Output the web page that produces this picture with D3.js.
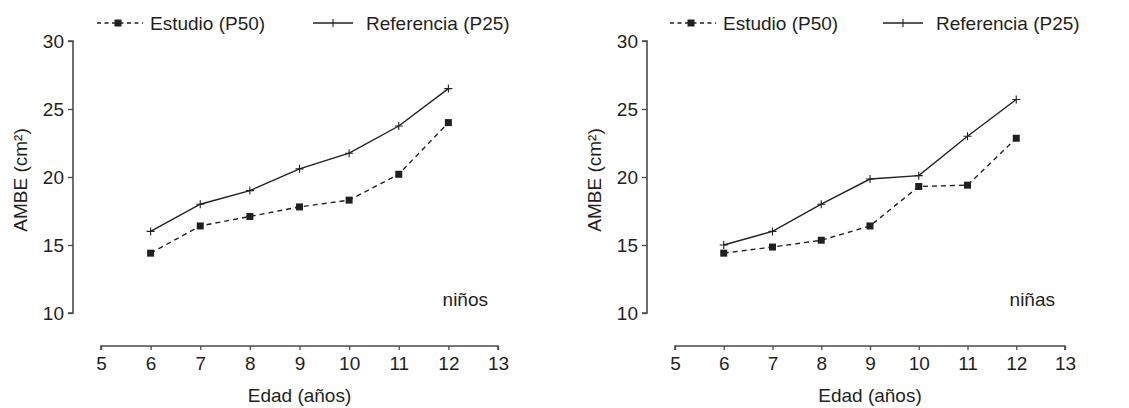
<!DOCTYPE html>
<html><head><meta charset="utf-8">
<script src="https://cdn.jsdelivr.net/npm/d3@7/dist/d3.min.js"></script>
<style>
body{margin:0;background:#fff;}
svg text{font-family:"Liberation Sans",Arial,Helvetica,sans-serif;fill:#231f20;}
</style></head>
<body><svg id="c" width="1129" height="408"></svg>
<script>
const ages = [6,7,8,9,10,11,12];
const xTicks = [5,6,7,8,9,10,11,12,13];
const yTicks = [10,15,20,25,30];
const ninosEstudio = [14.4,16.4,17.1,17.8,18.3,20.2,24.0];
const ninosReferencia = [16.0,18.0,19.0,20.6,21.75,23.75,26.5];
const ninasEstudio = [14.4,14.85,15.35,16.4,19.3,19.4,22.85];
const ninasReferencia = [15.0,16.0,18.0,19.85,20.1,23.0,25.7];
const seriesNames = ["Estudio (P50)","Referencia (P25)"];
const panelLabels = ["niños","niñas"];
const xTitle = "Edad (años)";
const yTitle = "AMBE (cm²)";

const svg = d3.select("#c");
const ink = "#231f20", axisCol = "#4a4a4a";
const FS = 19;

const panels = [
  {est: ninosEstudio, ref: ninosReferencia, label: panelLabels[0], yAxisX: 73, xr: [101,498], legX: [97,313]},
  {est: ninasEstudio, ref: ninasReferencia, label: panelLabels[1], yAxisX: 647, xr: [675,1065], legX: [670,883]}
];

panels.forEach(p => {
  const g = svg.append("g");
  const x = d3.scaleLinear().domain([5,13]).range(p.xr);
  const y = d3.scaleLinear().domain([10,30]).range([313,41]);

  const ya = g.append("g").attr("transform",`translate(${p.yAxisX},0)`)
    .call(d3.axisLeft(y).tickValues(yTicks).tickSize(5).tickPadding(4).tickFormat(d3.format("d")));
  const xa = g.append("g").attr("transform",`translate(0,346)`)
    .call(d3.axisBottom(x).tickValues(xTicks).tickSize(4).tickPadding(7).tickFormat(d3.format("d")));
  [ya,xa].forEach(a=>{
    a.select(".domain").attr("stroke",axisCol).attr("stroke-width",1.6);
    a.selectAll(".tick line").attr("stroke",axisCol).attr("stroke-width",1.3);
    a.selectAll(".tick text").attr("font-size",FS).attr("fill",ink);
  });
  ya.select(".domain").attr("d",`M-5,${y(30)}H0V${y(10)}H-5`);
  xa.select(".domain").attr("d",`M${x(5)},4V0H${x(13)}V4`);

  g.append("text").attr("x",(p.xr[0]+p.xr[1])/2).attr("y",402).attr("text-anchor","middle")
    .attr("font-size",FS).text(xTitle);
  g.append("text").attr("transform",`translate(${p.yAxisX-46},180) rotate(-90)`).attr("text-anchor","middle")
    .attr("font-size",FS).text(yTitle);
  g.append("text").attr("x",x(13)-10).attr("y",306).attr("text-anchor","end")
    .attr("font-size",FS).text(p.label);

  const line = d3.line().x((d,i)=>x(ages[i])).y(d=>y(d));
  g.append("path").datum(p.ref).attr("d",line).attr("fill","none").attr("stroke",ink).attr("stroke-width",1.4);
  g.selectAll(".cr").data(p.ref).enter().append("path")
    .attr("d",(d,i)=>`M${x(ages[i])-4},${y(d)}h8M${x(ages[i])},${y(d)-4}v8`)
    .attr("stroke",ink).attr("stroke-width",1.1);
  g.append("path").datum(p.est).attr("d",line).attr("fill","none").attr("stroke",ink).attr("stroke-width",1.4)
    .attr("stroke-dasharray","5,4");
  g.selectAll(".sq").data(p.est).enter().append("rect")
    .attr("x",(d,i)=>x(ages[i])-3.5).attr("y",d=>y(d)-3.5).attr("width",7).attr("height",7).attr("fill",ink);

  const ly = 23;
  const lx1 = p.legX[0], lx2 = p.legX[1];
  g.append("line").attr("x1",lx1).attr("x2",lx1+46).attr("y1",ly).attr("y2",ly)
    .attr("stroke",ink).attr("stroke-width",1.3).attr("stroke-dasharray","4,3.5");
  g.append("rect").attr("x",lx1+21-3.5).attr("y",ly-3.5).attr("width",7).attr("height",7).attr("fill",ink);
  g.append("text").attr("x",lx1+53).attr("y",ly+6.5).attr("font-size",FS).text(seriesNames[0]);
  g.append("line").attr("x1",lx2).attr("x2",lx2+40).attr("y1",ly).attr("y2",ly)
    .attr("stroke",ink).attr("stroke-width",1.3);
  g.append("path").attr("d",`M${lx2+20},${ly-4}v8`).attr("stroke",ink).attr("stroke-width",1.1);
  g.append("text").attr("x",lx2+53).attr("y",ly+6.5).attr("font-size",FS).text(seriesNames[1]);
});
</script></body></html>
